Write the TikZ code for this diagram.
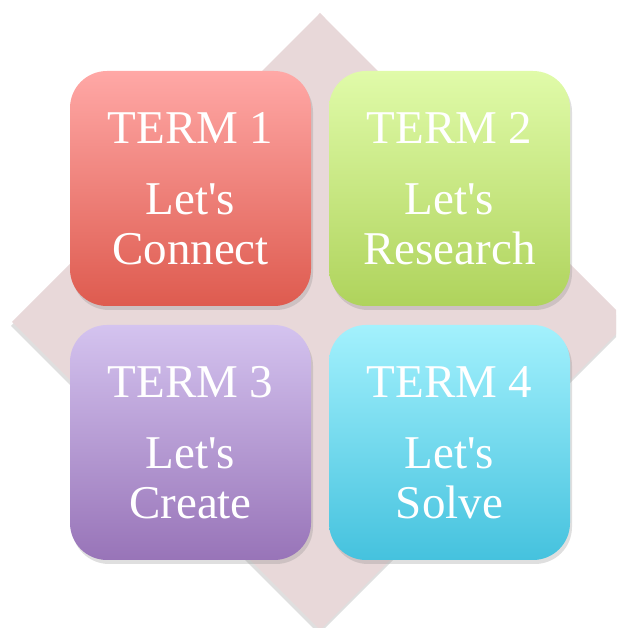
\documentclass[tikz,border=0pt]{standalone}
\usepackage{fontspec}
\newfontfamily\termfont{Liberation Serif}
\usepackage{tikz}
\usetikzlibrary{shadows}
\definecolor{tmback}{RGB}{232,216,217}
\definecolor{tmredtop}{RGB}{255,168,166}
\definecolor{tmredbot}{RGB}{222,91,79}
\definecolor{tmgreentop}{RGB}{224,251,169}
\definecolor{tmgreenbot}{RGB}{175,211,92}
\definecolor{tmpurpletop}{RGB}{212,195,239}
\definecolor{tmpurplebot}{RGB}{152,116,184}
\definecolor{tmbluetop}{RGB}{163,241,253}
\definecolor{tmbluebot}{RGB}{69,194,222}

\begin{document}
\begin{tikzpicture}[x=1pt, y=1pt,
  term/.style={rounded corners=37pt, minimum width=241pt, minimum height=235pt,
               align=center, text=white, inner sep=0pt,
               font=\termfont\fontsize{47}{50}\selectfont,
               drop shadow={shadow xshift=2pt, shadow yshift=-4pt, opacity=0.25}}]
  \useasboundingbox (0,0) rectangle (616,628);
  \clip (0,0) rectangle (616,628);

  % Background diamond
  \fill[tmback, drop shadow={shadow xshift=-1pt, shadow yshift=-4pt, opacity=0.25}]
    (320,615) -- (628,306) -- (320,-2) -- (12,306) -- cycle;

  % Four term boxes
  \node[term, top color=tmredtop, bottom color=tmredbot] (term1) at (190.5,439.5)
    {TERM 1\\[21pt]Let's\\Connect};
  \node[term, top color=tmgreentop, bottom color=tmgreenbot] (term2) at (449.5,439.5)
    {TERM 2\\[21pt]Let's\\Research};
  \node[term, top color=tmpurpletop, bottom color=tmpurplebot] (term3) at (190.5,185.5)
    {TERM 3\\[21pt]Let's\\Create};
  \node[term, top color=tmbluetop, bottom color=tmbluebot] (term4) at (449.5,185.5)
    {TERM 4\\[21pt]Let's\\Solve};
\end{tikzpicture}
\end{document}
